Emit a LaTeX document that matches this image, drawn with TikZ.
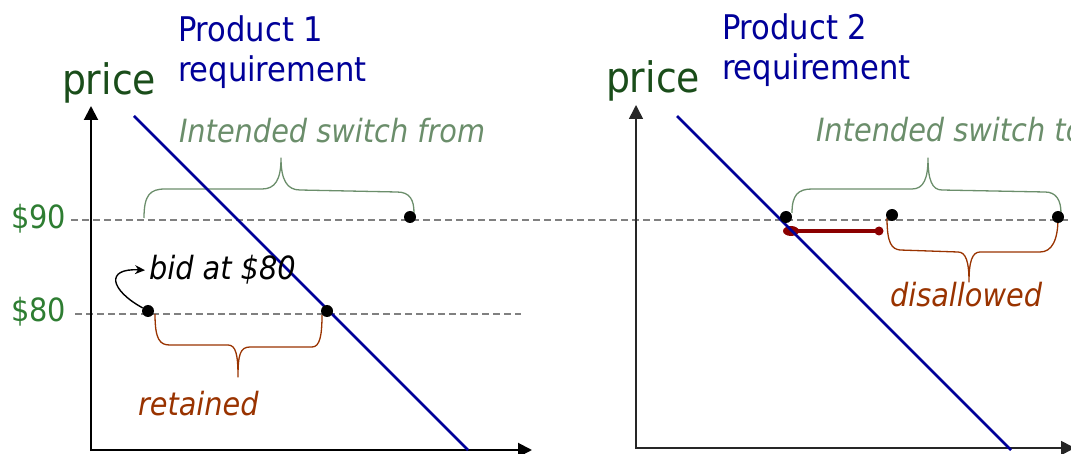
\documentclass[tikz,border=0pt]{standalone}
\usepackage{fontspec}
\setmainfont{DejaVu Sans Condensed}
\usetikzlibrary{arrows.meta,shapes.geometric}
\definecolor{pricegreen}{RGB}{26,77,26}
\definecolor{labgreen}{RGB}{46,125,50}
\definecolor{reqblue}{RGB}{0,0,153}
\definecolor{switchgreen}{RGB}{107,142,107}
\definecolor{brownish}{RGB}{153,51,0}
\definecolor{darkred}{RGB}{139,0,0}
\definecolor{dashgray}{RGB}{128,128,128}
\begin{document}
\begin{tikzpicture}[x=1pt,y=-1pt,
  txt/.style={anchor=base west, inner sep=0pt, outer sep=0pt},
  title/.style={txt, text=reqblue, font=\fontsize{34}{40}\selectfont},
  pricelab/.style={txt, text=pricegreen, font=\fontsize{42}{48}\selectfont},
  dollar/.style={txt, text=labgreen, font=\fontsize{32}{38}\selectfont},
  note/.style={txt, font=\fontsize{32}{38}\selectfont\itshape},
  axisline/.style={line width=2pt, -{Triangle[length=14pt,width=14pt]}},
  demand/.style={reqblue, line width=2.5pt},
  guide/.style={dashgray, line width=1.2pt, dash pattern=on 7pt off 4pt},
  dotpt/.style={circle, fill=black, inner sep=0pt, minimum size=12pt},
  brace/.style={line width=1.3pt, line join=round},
]
\useasboundingbox (0,0) rectangle (1071,454);

% guide lines
\coordinate (g90a) at (71,220);
\coordinate (g90b) at (1071,220);
\coordinate (g80a) at (75,314);
\coordinate (g80b) at (521,314);
\draw[guide] (g90a) -- (g90b);
\draw[guide] (g80a) -- (g80b);

% axes
\coordinate (o1) at (91,451);
\coordinate (yt1) at (91,106);
\coordinate (ox1) at (90,450);
\coordinate (xt1) at (532,450);
\draw[axisline] (o1) -- (yt1);
\draw[axisline] (ox1) -- (xt1);
\coordinate (o2) at (636,449);
\coordinate (yt2) at (636,105);
\coordinate (ox2) at (635,448);
\coordinate (xt2) at (1075,448);
\draw[axisline, line width=1.6pt, black!85] (o2) -- (yt2);
\draw[axisline, line width=1.6pt, black!85] (ox2) -- (xt2);

% braces
\draw[brace, switchgreen] (144,218) .. controls (144,195) and (150,189) .. (165,189) -- (262,189)
  .. controls (275,189) and (281,180) .. (281,158) .. controls (281,180) and (287,190) .. (300,190)
  -- (397,192) .. controls (410,192) and (414,200) .. (414,213);
\draw[brace, brownish] (155,314) .. controls (155,340) and (160,345) .. (170,345) -- (228,345)
  .. controls (236,345) and (238,355) .. (238,377) .. controls (238,355) and (240,347) .. (250,347)
  -- (312,347) .. controls (320,347) and (322,335) .. (322,315);
\draw[brace, switchgreen] (792,213) .. controls (792,195) and (798,189) .. (812,189) -- (912,189)
  .. controls (924,189) and (928,178) .. (928,158) .. controls (928,180) and (932,190) .. (942,190)
  -- (1045,192) .. controls (1056,192) and (1061,200) .. (1061,213);
\draw[brace, brownish] (887,218) .. controls (887,244) and (892,249) .. (900,250) -- (958,252)
  .. controls (966,252) and (969,262) .. (969,282) .. controls (969,262) and (972,252) .. (980,252)
  -- (1040,252) .. controls (1052,252) and (1058,240) .. (1058,218);

% disallowed segment
\node[ellipse, fill=darkred, minimum width=16pt, minimum height=10pt, inner sep=0pt] (r1) at (791,231) {};
\node[circle, fill=darkred, minimum size=9pt, inner sep=0pt] (r2) at (879,231) {};
\draw[darkred, line width=4pt] (r1.center) -- (r2.center);

% demand lines
\coordinate (d1a) at (134,116);
\coordinate (d1b) at (468,450);
\draw[demand] (d1a) -- (d1b);
\coordinate (d2a) at (677,116);
\coordinate (d2b) at (1011,450);
\draw[demand] (d2a) -- (d2b);

% dots
\node[dotpt] (p1a) at (410,217) {};
\node[dotpt] (p1b) at (148,311) {};
\node[dotpt] (p1c) at (327,311) {};
\node[dotpt] (p2a) at (786,217) {};
\node[dotpt] (p2b) at (892,215) {};
\node[dotpt] (p2c) at (1058,217) {};

% texts
\node[title] (t1a) at (178,42) {Product 1};
\node[title] (t1b) at (178,82) {requirement};
\node[pricelab] (pr1) at (62,95) {price};
\node[note, text=switchgreen] (sw1) at (179,143) {Intended switch from};
\node[dollar] (d90) at (11,229) {\$90};
\node[dollar] (d80) at (11,322) {\$80};
\node[note] (bid) at (149,280) {bid at \$80};
\node[note, text=brownish] (ret) at (138,415) {retained};
\node[title] (t2a) at (722,40) {Product 2};
\node[title] (t2b) at (722,80) {requirement};
\node[pricelab] (pr2) at (606,93) {price};
\node[note, text=switchgreen] (sw2) at (816,142) {Intended switch to};
\node[note, text=brownish] (dis) at (890,307) {disallowed};

% bid arrow
\draw[line width=1.4pt, -{Stealth[length=10pt,width=9pt]}] (p1b.150) .. controls (110,290) and (105,268) .. ([xshift=-4pt]bid.west);
\end{tikzpicture}
\end{document}
